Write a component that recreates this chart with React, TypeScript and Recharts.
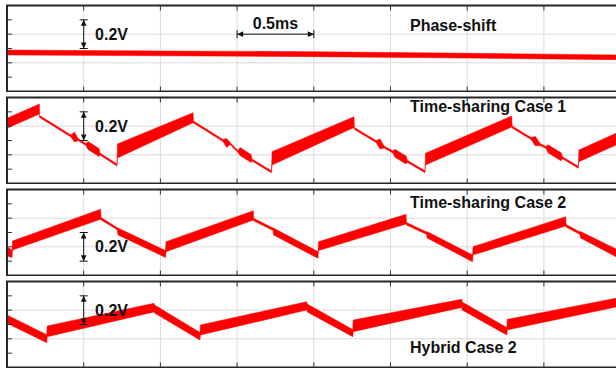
import {
  Area,
  AreaChart,
  CartesianGrid,
  ReferenceArea,
  ReferenceDot,
  ReferenceLine,
  XAxis,
  YAxis,
} from "recharts";

// grid: 8 divisions of 0.5 ms, 6 divisions of 0.1 V
const timeTicks = [0, 0.5, 1, 1.5, 2, 2.5, 3, 3.5, 4];
const voltTicks = [0, 0.1, 0.2, 0.3, 0.4, 0.5, 0.6];

// Phase-shift (ms / V)
const phaseTime = [0, 1, 2, 3, 3.97];
const phaseLow = [0.255, 0.249, 0.243, 0.233, 0.222];
const phaseHigh = [0.289, 0.283, 0.278, 0.267, 0.255];

// Time-sharing Case 1
const case1Time = [
  0, 0.211, 0.213, 0.417, 0.44, 0.463, 0.515, 0.528, 0.6, 0.606, 0.717, 0.72,
  1.213, 1.216, 1.408, 1.432, 1.454, 1.506, 1.519, 1.591, 1.597, 1.724, 1.728,
  2.262, 2.265, 2.406, 2.432, 2.458, 2.516, 2.529, 2.601, 2.611, 2.725, 2.728,
  3.29, 3.293, 3.416, 3.445, 3.475, 3.514, 3.527, 3.612, 3.621, 3.724, 3.728,
  3.97,
];
const case1Low = [
  0.385, 0.485, 0.46, 0.324, 0.29, 0.3, 0.265, 0.237, 0.188, 0.199, 0.122,
  0.178, 0.424, 0.422, 0.293, 0.251, 0.272, 0.216, 0.195, 0.147, 0.157, 0.075,
  0.129, 0.391, 0.377, 0.286, 0.241, 0.248, 0.213, 0.183, 0.136, 0.147, 0.075,
  0.129, 0.394, 0.387, 0.307, 0.262, 0.265, 0.244, 0.214, 0.158, 0.173, 0.106,
  0.152, 0.269,
];
const case1High = [
  0.455, 0.555, 0.474, 0.338, 0.359, 0.314, 0.279, 0.293, 0.244, 0.213, 0.136,
  0.276, 0.494, 0.436, 0.307, 0.314, 0.286, 0.23, 0.251, 0.202, 0.171, 0.089,
  0.222, 0.466, 0.391, 0.3, 0.311, 0.262, 0.227, 0.239, 0.192, 0.161, 0.089,
  0.211, 0.471, 0.401, 0.321, 0.328, 0.279, 0.258, 0.27, 0.214, 0.187, 0.12,
  0.234, 0.35,
];

// Time-sharing Case 2
const case2Time = [
  0, 0.033, 0.036, 0.61, 0.613, 0.717, 0.724, 1.033, 1.037, 1.606, 1.609,
  1.734, 1.737, 2.027, 2.031, 2.601, 2.604, 2.736, 2.738, 3.035, 3.038, 3.642,
  3.645, 3.735, 3.739, 3.97,
];
const case2Low = [
  0.136, 0.126, 0.178, 0.392, 0.387, 0.321, 0.283, 0.126, 0.166, 0.387, 0.38,
  0.314, 0.283, 0.12, 0.174, 0.359, 0.352, 0.286, 0.262, 0.096, 0.143, 0.345,
  0.338, 0.286, 0.262, 0.131,
];
const case2High = [
  0.199, 0.178, 0.241, 0.462, 0.405, 0.335, 0.331, 0.174, 0.236, 0.452, 0.398,
  0.331, 0.331, 0.167, 0.236, 0.427, 0.37, 0.304, 0.307, 0.143, 0.201, 0.41,
  0.356, 0.304, 0.307, 0.185,
];

// Hybrid Case 2
const hybridTime = [
  0, 0.259, 0.262, 0.958, 0.962, 1.258, 1.261, 1.954, 1.957, 2.254, 2.257,
  2.964, 2.967, 3.258, 3.261, 3.97,
];
const hybridLow = [
  0.308, 0.173, 0.215, 0.387, 0.38, 0.192, 0.227, 0.401, 0.387, 0.215, 0.25,
  0.419, 0.401, 0.227, 0.262, 0.422,
];
const hybridHigh = [
  0.366, 0.229, 0.29, 0.448, 0.436, 0.244, 0.297, 0.459, 0.443, 0.265, 0.331,
  0.476, 0.457, 0.279, 0.336, 0.483,
];

const textStyle = {
  fontFamily: '"Liberation Sans", Arial, sans-serif',
  fontWeight: 700,
  fontSize: 16,
  fill: "#111",
};

// scale marker: shaft, end bars and arrow heads pointing at the bars
function Marker(props: any) {
  const { x1, y1, x2, y2 } = props;
  const len = Math.hypot(x2 - x1, y2 - y1) || 1;
  const dx = (x2 - x1) / len;
  const dy = (y2 - y1) / len;
  const nx = -dy;
  const ny = dx;
  const head = (tx: number, ty: number, s: number) =>
    `M${tx},${ty} L${tx + s * dx * 6 + nx * 2.8},${ty + s * dy * 6 + ny * 2.8} L${tx + s * dx * 6 - nx * 2.8},${ty + s * dy * 6 - ny * 2.8} Z`;
  return (
    <g>
      <line x1={x1} y1={y1} x2={x2} y2={y2} stroke="#111" strokeWidth={1} />
      <line x1={x1 - nx * 4} y1={y1 - ny * 4} x2={x1 + nx * 4} y2={y1 + ny * 4} stroke="#111" strokeWidth={1} />
      <line x1={x2 - nx * 4} y1={y2 - ny * 4} x2={x2 + nx * 4} y2={y2 + ny * 4} stroke="#111" strokeWidth={1} />
      <path d={head(x1, y1, 1)} fill="#111" />
      <path d={head(x2, y2, -1)} fill="#111" />
    </g>
  );
}

const caption =
  (text: string, anchor: "start" | "middle", dy: number) => (p: any) =>
    (
      <text x={p.cx} y={p.cy} dy={dy} textAnchor={anchor} style={textStyle}>
        {text}
      </text>
    );

const edgeTick = (props: any) => (
  <line x1={props.x1} y1={props.y1} x2={props.x2} y2={props.y2} stroke="#333" strokeWidth={1} />
);

type Panel = {
  title: string;
  time: number[];
  low: number[];
  high: number[];
  titleV: number;
  scaleV: [number, number];
  timeMarker?: boolean;
};

const panels: Panel[] = [
  { title: "Phase-shift", time: phaseTime, low: phaseLow, high: phaseHigh, titleV: 0.422, scaleV: [0.5, 0.3], timeMarker: true },
  { title: "Time-sharing Case 1", time: case1Time, low: case1Low, high: case1High, titleV: 0.501, scaleV: [0.5, 0.3] },
  { title: "Time-sharing Case 2", time: case2Time, low: case2Low, high: case2High, titleV: 0.473, scaleV: [0.3, 0.1] },
  { title: "Hybrid Case 2", time: hybridTime, low: hybridLow, high: hybridHigh, titleV: 0.098, scaleV: [0.5, 0.3] },
];

const tickV = (0.6 * 5) / 86;
const tickT = (4 * 5) / 613.6;

function Scope({ p }: { p: Panel }) {
  const rows = p.time.map((t, i) => ({ t, v: [p.low[i], p.high[i]] }));
  const mid = (p.scaleV[0] + p.scaleV[1]) / 2;
  const innerT = timeTicks.slice(1, -1);
  const innerV = voltTicks.slice(1, -1);
  return (
    <AreaChart
      width={624}
      height={92}
      data={rows}
      margin={{ top: 5.5, right: 3.4, bottom: 0.5, left: 7 }}
    >
      <XAxis type="number" dataKey="t" domain={[0, 4]} ticks={timeTicks} hide allowDataOverflow />
      <YAxis type="number" domain={[0, 0.6]} ticks={voltTicks} hide allowDataOverflow />
      <CartesianGrid stroke="#dadada" />
      <Area
        type="linear"
        dataKey="v"
        stroke="#ff0000"
        strokeWidth={0.5}
        fill="#ff0000"
        fillOpacity={1}
        dot={false}
        activeDot={false}
        isAnimationActive={false}
      />
      {innerT.map((t) => (
        <ReferenceLine key={`b${t}`} segment={[{ x: t, y: 0 }, { x: t, y: tickV }]} shape={edgeTick} />
      ))}
      {innerT.map((t) => (
        <ReferenceLine key={`t${t}`} segment={[{ x: t, y: 0.6 }, { x: t, y: 0.6 - tickV }]} shape={edgeTick} />
      ))}
      {innerV.map((v) => (
        <ReferenceLine key={`l${v}`} segment={[{ x: 0, y: v }, { x: tickT, y: v }]} shape={edgeTick} />
      ))}
      <ReferenceArea x1={0} x2={4} y1={0} y2={0.6} fill="none" fillOpacity={0} stroke="#262626" strokeWidth={2} />
      <ReferenceLine segment={[{ x: 0.5, y: p.scaleV[0] }, { x: 0.5, y: p.scaleV[1] }]} shape={Marker} />
      <ReferenceDot x={0.574} y={mid} shape={caption("0.2V", "start", 5.5)} />
      {p.timeMarker && (
        <ReferenceLine segment={[{ x: 1.5, y: 0.4 }, { x: 2, y: 0.4 }]} shape={Marker} />
      )}
      {p.timeMarker && (
        <ReferenceDot x={1.75} y={0.4} shape={caption("0.5ms", "middle", -5)} />
      )}
      <ReferenceDot x={2.627} y={p.titleV} shape={caption(p.title, "start", 0)} />
    </AreaChart>
  );
}

export default function App() {
  return (
    <div
      style={{
        position: "absolute",
        left: 0,
        top: 0,
        width: 616,
        height: 369,
        overflow: "hidden",
        background: "#fff",
      }}
    >
      {panels.map((p) => (
        <div key={p.title} style={{ height: 92 }}>
          <Scope p={p} />
        </div>
      ))}
    </div>
  );
}
